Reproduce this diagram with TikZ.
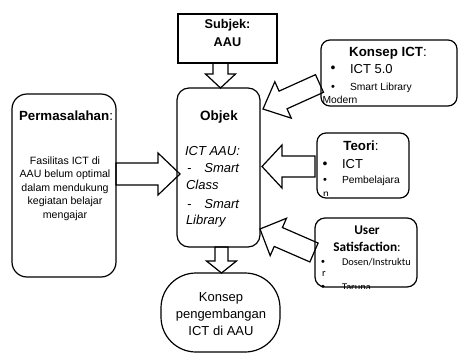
\documentclass[tikz,border=0pt]{standalone}
\usepackage{fontspec}
\setmainfont{Liberation Sans}
\newfontfamily\calfont{Carlito}
\usetikzlibrary{calc}
\pgfdeclarelayer{bg}
\pgfsetlayers{bg,main}
\newcommand\barrow[5]{%
  \draw[arr] ($(#1)!#3!90:(#2)$) -- ($(#2)!#5!(#1)!#3!-90:(#1)$) -- ($(#2)!#5!(#1)!#4!-90:(#1)$) -- (#2) -- ($(#2)!#5!(#1)!#4!90:(#1)$) -- ($(#2)!#5!(#1)!#3!90:(#1)$) -- ($(#1)!#3!-90:(#2)$) -- cycle;}
\tikzset{
  box/.style={draw, line width=1.2pt, inner sep=0pt, outer sep=0pt, rectangle},
  rbox/.style={box, rounded corners=#1},
  arr/.style={draw, line width=1.2pt, fill=white, line join=miter},
  tx/.style={inner sep=0pt, outer sep=0pt},
  hd/.style={tx, font=\fontsize{13.3}{16}\selectfont},
  bd/.style={tx, font=\fontsize{10.6}{13}\selectfont},
  it/.style={tx, font=\fontsize{13}{16}\selectfont\itshape},
  big/.style={tx, font=\fontsize{13}{16}\selectfont},
  sm/.style={tx, font=\fontsize{10.3}{12}\selectfont},
  bulb/.style={tx, anchor=base, font=\fontsize{14}{16}\selectfont},
  buls/.style={tx, anchor=base, font=\fontsize{11}{13}\selectfont},
}
\begin{document}
\begin{tikzpicture}[x=1pt,y=-1pt]
\useasboundingbox (0,0) rectangle (459,354);
% boxes
\node[box, minimum width=99, minimum height=49] (subj) at (227.5,38.5) {};
\node[rbox=12pt, minimum width=83, minimum height=159] (obj) at (218.5,167.5) {};
\node[rbox=15pt, minimum width=104, minimum height=183] (perm) at (64,185.5) {};
\node[rbox=9pt, minimum width=136, minimum height=66] (kict) at (389,73) {};
\node[rbox=9pt, minimum width=92, minimum height=65] (teori) at (363,165.5) {};
\node[rbox=10pt, minimum width=102, minimum height=69] (user) at (366,252.5) {};
\node[rbox=35pt, minimum width=119, minimum height=79] (konsep) at (220.5,312.5) {};
% arrow ends
\coordinate (a1s) at ($(subj.south)+(-7,0)$);
\coordinate (a1e) at (a1s |- obj.north);
\coordinate (a2s) at ($(obj.south)+(3,0)$);
\coordinate (a2e) at (a2s |- konsep.north);
\coordinate (a3s) at ($(perm.east)+(0,-11.5)$);
\coordinate (a3e) at ($(a3s -| obj.west)+(3,0)$);
\coordinate (a4s) at ($(teori.west)+(-2,1)$);
\coordinate (a4e) at ($(a4s -| obj.east)+(2,0)$);
\coordinate (a5s) at ($(kict.west)+(-1.5,10.5)$);
\coordinate (a5e) at ($(obj.north east)+(3,21)$);
\coordinate (a6s) at ($(user.west)+(-1,0)$);
\coordinate (a6e) at ($(obj.south east)+(0,-18)$);
\begin{pgfonlayer}{bg}
\fill[white] (0,0) rectangle (459,354);
\barrow{a1s}{a1e}{7.5pt}{15pt}{14pt}
\barrow{a2s}{a2e}{6.5pt}{15pt}{12pt}
\barrow{a3s}{a3e}{11pt}{21pt}{22pt}
\barrow{a4s}{a4e}{10.5pt}{21.5pt}{20pt}
\barrow{a5s}{a5e}{9.7pt}{20pt}{22pt}
\barrow{a6s}{a6e}{10.3pt}{20.4pt}{20pt}
\end{pgfonlayer}
% Subjek
\node[hd, anchor=base, font=\fontsize{12.7}{15}\selectfont\bfseries] (subjA) at (227.5,28.5) {Subjek:};
\node[hd, anchor=base, font=\fontsize{12.7}{15}\selectfont\bfseries] (subjB) at (227.5,46.5) {AAU};
% Objek
\node[hd, anchor=base, font=\fontsize{13.5}{16}\selectfont\bfseries] (objT) at (219,120) {Objek};
\node[it, anchor=base west] (objL1) at (185,155) {ICT AAU:};
\node[it, anchor=base west] (objD1) at (187,172) {-};
\node[it, anchor=base east] (objS1) at (239,172) {Smart};
\node[it, anchor=base west] (objC) at (186,189.5) {Class};
\node[it, anchor=base west] (objD2) at (187,208) {-};
\node[it, anchor=base east] (objS2) at (239,208) {Smart};
\node[it, anchor=base west] (objLib) at (186,224) {Library};
% Permasalahan
\node[hd, anchor=base] (permT) at (66,120.7) {\textbf{Permasalahan}:};
\node[bd, anchor=base] (perm1) at (65,164) {Fasilitas ICT di};
\node[bd, anchor=base] (perm2) at (65,177.5) {AAU belum optimal};
\node[bd, anchor=base] (perm3) at (65,191) {dalam mendukung};
\node[bd, anchor=base] (perm4) at (65,204.5) {kegiatan belajar};
\node[bd, anchor=base] (perm5) at (65,218) {mengajar};
% Konsep ICT
\node[hd, anchor=base] (kT) at (388,56.5) {\textbf{Konsep ICT}:};
\node[bulb] (kB1) at (333,72) {•};
\node[big, anchor=base west] (kI1) at (350,73) {ICT 5.0};
\node[buls] (kB2) at (333,90) {•};
\node[sm, anchor=base west] (kI2) at (350,90.4) {Smart Library};
\node[sm, anchor=base west] (kI3) at (322.5,103.7) {Modern};
% Teori
\node[hd, anchor=base] (tT) at (361,150.4) {\textbf{Teori}:};
\node[bulb] (tB1) at (325,168) {•};
\node[big, anchor=base west] (tI1) at (342,168.7) {ICT};
\node[buls] (tB2) at (325,183) {•};
\node[sm, anchor=base west] (tI2) at (342,183) {Pembelajara};
\begin{scope}
\clip ($(teori.north west)$) rectangle ($(teori.south east)+(0,-2.5)$);
\node[sm, anchor=base west] (tI3) at (323,197) {n};
\end{scope}
% User Satisfaction
\node[hd, anchor=base] (uT1) at (367,234.3) {\calfont\bfseries User};
\node[hd, anchor=base] (uT2) at (367,251) {\calfont\textbf{Satisfaction}:};
\node[buls] (uB1) at (323,265) {•};
\node[sm, anchor=base west, font=\fontsize{10.4}{12}\selectfont\calfont] (uI1) at (342,265) {Dosen/Instruktu};
\node[sm, anchor=base west, font=\fontsize{10.4}{12}\selectfont\calfont] (uI2) at (322,276.5) {r};
\begin{scope}
\clip ($(user.north west)$) rectangle ($(user.south east)+(0,1)$);
\node[buls] (uB2) at (323,290.5) {•};
\node[sm, anchor=base west, font=\fontsize{10.4}{12}\selectfont\calfont] (uI3) at (342,290.5) {Taruna};
\end{scope}
% Konsep pengembangan
\node[big, anchor=base] (kb1) at (221,301) {Konsep};
\node[big, anchor=base] (kb2) at (221,318) {pengembangan};
\node[big, anchor=base] (kb3) at (221,335) {ICT di AAU};
\end{tikzpicture}
\end{document}
